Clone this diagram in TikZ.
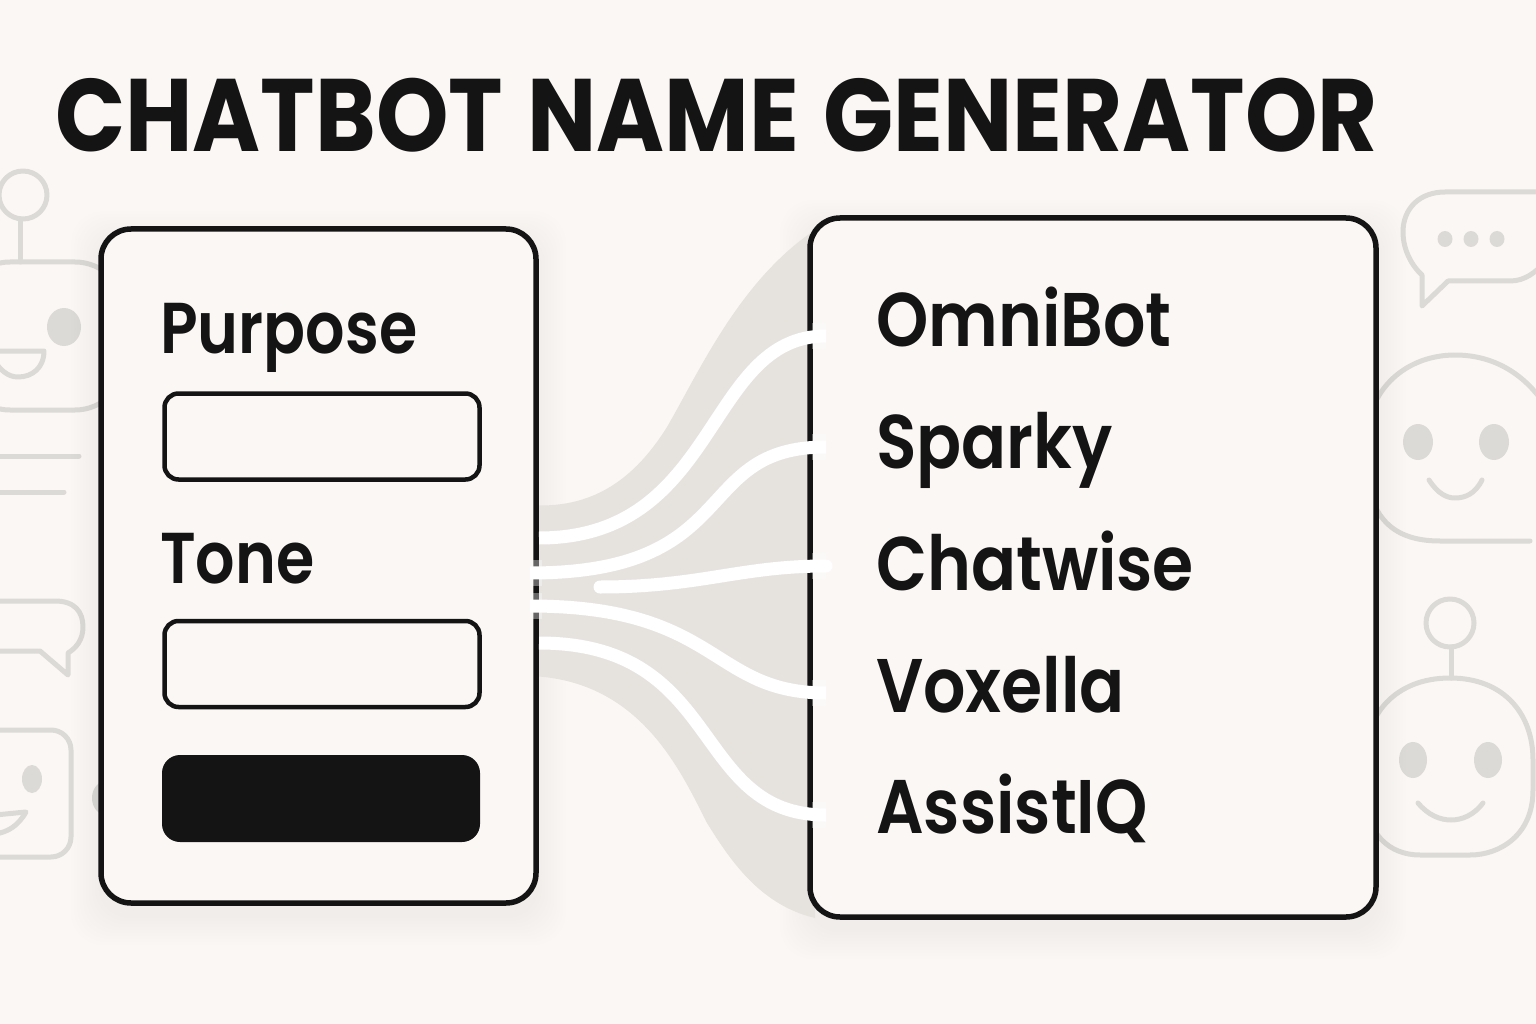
\documentclass[tikz,border=0pt]{standalone}
\usepackage{fontspec}
\usepackage{xcolor}
\usetikzlibrary{calc, positioning}
\setmainfont{Poppins}
\newfontfamily\titlefont{Poppins}[FakeStretch=0.895, WordSpace=1.25]
\newfontfamily\namefont{Poppins SemiBold}[FakeStretch=0.875]
\newfontfamily\fieldfont{Poppins SemiBold}[FakeStretch=0.86]
\definecolor{paper}{HTML}{FAF7F4}
\definecolor{ink}{HTML}{141414}
\definecolor{ghost}{HTML}{DCDAD7}
\definecolor{bandtone}{HTML}{E6E3DF}
\tikzset{
  panel/.style={draw=ink, line width=5.5pt, fill=paper, rounded corners=30pt, inner sep=0pt},
  inputbox/.style={draw=ink, line width=4.5pt, fill=paper, rounded corners=14pt, inner sep=0pt,
    minimum width=315pt, minimum height=86pt},
  runbutton/.style={fill=ink, rounded corners=18pt, inner sep=0pt, minimum width=318pt, minimum height=87pt},
  fieldlabel/.style={anchor=base west, inner sep=0pt, text=ink, font=\fieldfont\fontsize{72}{76}\selectfont},
  namelabel/.style={anchor=base west, inner sep=0pt, text=ink, font=\namefont\fontsize{76}{80}\selectfont},
  icon/.style={draw=ghost, line width=5pt, line cap=round, line join=round},
  iconfill/.style={fill=ghost},
  flow/.style={draw=white, line width=13pt},
  flowglow/.style={draw=white, line width=26pt, opacity=0.35}
}

\begin{document}
\begin{tikzpicture}[x=1pt, y=-1pt]
  \clip (0,0) rectangle (1536,1024);
  \fill[paper] (0,0) rectangle (1536,1024);

  % Robot, lines, bubble and square face on the left
  \draw[icon] (23,195) circle (24);
  \draw[icon] (20,219) -- (20,262);
  \draw[icon, rounded corners=50pt] (-40,262) rectangle (125,410);
  \fill[iconfill] (64,327) ellipse (17 and 19);
  \draw[icon] (-10,351) -- (44,351) .. controls (44,368) and (32,377) .. (18,377) .. controls (8,377) and (0,370) .. (-6,360);
  \draw[icon] (-5,456) -- (79,456);
  \draw[icon] (-5,492) -- (64,492);
  \draw[icon] (-5,601) -- (55,601) .. controls (75,601) and (83,612) .. (83,627) .. controls (83,640) and (76,648) .. (68,653)
    -- (68,675) -- (40,651) -- (-5,651);
  \draw[icon, rounded corners=20pt] (-40,730) rectangle (71,857);
  \fill[iconfill] (32,779) ellipse (10 and 14);
  \draw[icon] (-5,815) -- (26,812) .. controls (18,826) and (8,832) .. (-5,834);
  \fill[iconfill] (106,798) ellipse (14 and 17);

  % Bubble and two faces on the right
  \draw[icon] (1545,192) -- (1445,192) .. controls (1420,192) and (1403,208) .. (1403,232) .. controls (1403,250) and (1412,266) .. (1422,275)
    -- (1422,306) -- (1448,281) -- (1510,281) .. controls (1525,281) and (1536,272) .. (1545,262);
  \foreach \dotx in {1445,1471,1497}
    \fill[iconfill] (\dotx,239) ellipse (7.5 and 8);
  \draw[icon] (1530,541) -- (1440,541) .. controls (1390,541) and (1365,515) .. (1365,450)
    .. controls (1365,385) and (1410,355) .. (1455,355) .. controls (1495,355) and (1525,375) .. (1545,405);
  \fill[iconfill] (1418,442) ellipse (15 and 18);
  \fill[iconfill] (1494,442) ellipse (15 and 18);
  \draw[icon] (1429,480) .. controls (1438,494) and (1447,498) .. (1455,498) .. controls (1465,498) and (1475,494) .. (1482,480);
  \draw[icon] (1450,623) circle (24);
  \draw[icon] (1451,647) -- (1451,678);
  \draw[icon] (1450,678) .. controls (1505,678) and (1533,715) .. (1533,760) -- (1533,790) .. controls (1533,835) and (1500,855) .. (1470,855)
    -- (1420,855) .. controls (1390,855) and (1365,835) .. (1365,790) -- (1365,760) .. controls (1365,715) and (1395,678) .. (1450,678) -- cycle;
  \fill[iconfill] (1413,760) ellipse (14 and 18);
  \fill[iconfill] (1488,760) ellipse (14 and 18);
  \draw[icon] (1418,803) .. controls (1428,815) and (1440,820) .. (1451,820) .. controls (1462,820) and (1474,815) .. (1483,803);

  % Soft shadows under the panels
  \foreach \s in {3,6,...,30} {
    \fill[black, opacity=0.004, rounded corners=32pt] ({101-\s},{229-\s+12}) rectangle ({536+\s},{903+\s+12});
    \fill[black, opacity=0.004, rounded corners=32pt] ({810-\s},{218-\s+12}) rectangle ({1376+\s},{917+\s+12});
  }

  % Grey band between the panels
  \fill[bandtone] (530,505) .. controls (600,510) and (640,470) .. (667,427) .. controls (700,370) and (740,280) .. (815,230)
    -- (815,918) .. controls (760,905) and (730,860) .. (707,823) .. controls (680,770) and (640,680) .. (530,676) -- cycle;

  % Panels
  \node[panel, minimum width=435pt, minimum height=674pt] (inputpanel) at (318.5,566) {};
  \node[panel, minimum width=566pt, minimum height=699pt] (resultpanel) at (1093,567.5) {};

  % Title
  \node[anchor=base west, inner sep=0pt, text=ink, font=\titlefont\bfseries\fontsize{103}{110}\selectfont] (title) at (55,152) {CHATBOT NAME GENERATOR};

  % Form
  \node[fieldlabel] (purposelabel) at (160,353) {Purpose};
  \node[inputbox] (purposebox) at (322,436.5) {};
  \node[fieldlabel] (tonelabel) at (160,583) {Tone};
  \node[inputbox] (tonebox) at (322,664) {};
  \node[runbutton] (generatebutton) at (321,798.5) {};

  % Names
  \node[namelabel] (omnibot) at (876,346) {OmniBot};
  \node[namelabel] (sparky) at (876,468) {Sparky};
  \node[namelabel] (chatwise) at (876,590) {Chatwise};
  \node[namelabel] (voxella) at (876,712) {Voxella};
  \node[namelabel] (assistiq) at (876,833) {AssistIQ};

  % Flow ends
  \coordinate (outa) at (539,538);
  \coordinate (outb) at (530,573);
  \coordinate (outc) at (600,587);
  \coordinate (outd) at (530,606);
  \coordinate (oute) at (539,643);
  \coordinate (ina) at (826,336);
  \coordinate (inb) at (826,447);
  \coordinate (inc) at (826,566);
  \coordinate (ind) at (826,693);
  \coordinate (ine) at (826,815);

  % Glow, then the white flows
  \draw[flowglow] (ina) -- ++(-14,0);
  \draw[flowglow] (inb) -- ++(-14,0);
  \draw[flowglow] (inc) -- ++(-14,0);
  \draw[flowglow] (ind) -- ++(-14,0);
  \draw[flowglow] (ine) -- ++(-14,0);
  \draw[flowglow] (outb) -- ++(12,0);
  \draw[flowglow] (outd) -- ++(12,0);
  \draw[flow] (outa) .. controls (720,538) and (705,336) .. (ina);
  \draw[flow] (outb) .. controls (745,573) and (690,447) .. (inb);
  \draw[flow, line cap=round] (outc) .. controls (700,587) and (740,566) .. (inc);
  \draw[flow] (outd) .. controls (720,606) and (710,693) .. (ind);
  \draw[flow] (oute) .. controls (725,643) and (690,815) .. (ine);
\end{tikzpicture}
\end{document}
